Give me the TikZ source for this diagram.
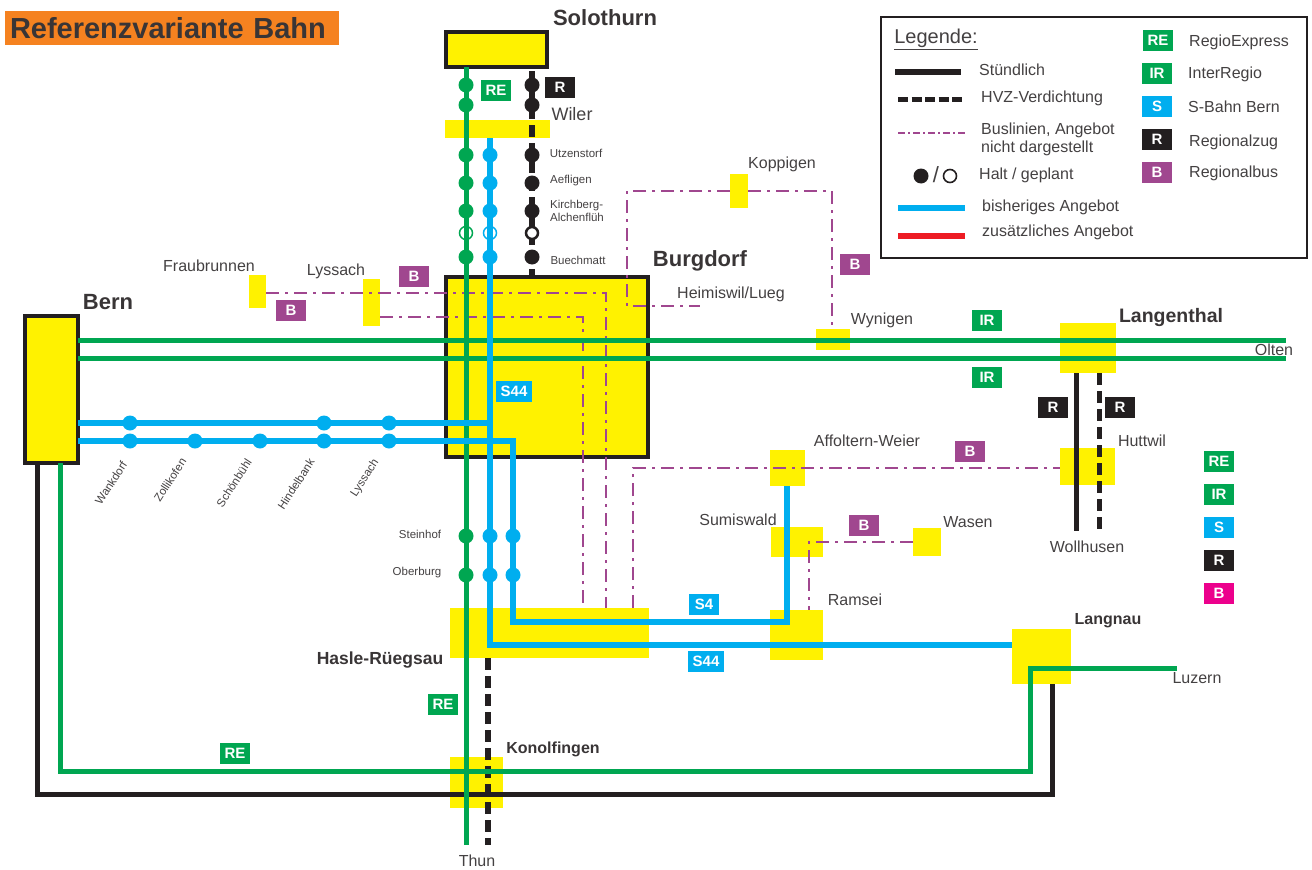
\documentclass[tikz,border=0pt]{standalone}
\usepackage{fontspec}
\setmainfont{Liberation Sans}
\usepackage{xcolor}
\usepackage{tikz}
\usetikzlibrary{positioning, arrows.meta}

\definecolor{reGreen}{HTML}{00A651}
\definecolor{sBlue}{HTML}{00AEEF}
\definecolor{stopYellow}{HTML}{FFF200}
\definecolor{busPurple}{HTML}{A0478F}
\definecolor{railBlack}{HTML}{231F20}
\definecolor{titleOrange}{HTML}{F58220}
\definecolor{addRed}{HTML}{ED1C24}
\definecolor{tagPink}{HTML}{EC008C}

\begin{document}
\begin{tikzpicture}[
    x=1pt, y=-1pt,
    % Define styles for the nodes and paths
        station/.style={fill=stopYellow, draw=none, inner sep=0pt, outer sep=0pt},
        hub/.style={fill=stopYellow, draw=railBlack, line width=4pt, inner sep=0pt, outer sep=0pt},
        tag/.style={inner sep=0pt, minimum height=21pt, minimum width=30pt, text=white, font=\fontsize{15}{15}\selectfont\bfseries},
        place/.style={inner sep=0pt, text=railBlack!85!white, font=\fontsize{16}{18}\selectfont, align=left},
        bigplace/.style={inner sep=0pt, text=railBlack!90!white, font=\fontsize{22}{24}\selectfont\bfseries},
        midplace/.style={inner sep=0pt, text=railBlack!90!white, font=\fontsize{16}{18}\selectfont\bfseries},
        tiny/.style={inner sep=0pt, text=railBlack!85!white, font=\fontsize{11.5}{13}\selectfont, align=left},
        slanted/.style={tiny, rotate=57},
        greenline/.style={draw=reGreen, line width=5pt},
        blueline/.style={draw=sBlue, line width=6pt},
        blackline/.style={draw=railBlack, line width=6pt},
        hvzline/.style={draw=railBlack, line width=6pt, dash pattern=on 12pt off 6pt},
        busline/.style={draw=busPurple, line width=2.8pt, dash pattern=on 13pt off 6pt on 3pt off 6pt},
        stopdot/.style={circle, inner sep=0pt, minimum size=15pt}
    ]
    \useasboundingbox (0,0) rectangle (1312,870);

        % Define the stations
        \node[station, minimum width=105pt, minimum height=18pt] (wiler) at (497.5,129) {};
        \node[station, minimum width=56pt, minimum height=50pt] (langenthal) at (1088,348) {};
        \node[station, minimum width=55pt, minimum height=37pt] (huttwil) at (1087.5,466.5) {};
        \node[station, minimum width=34pt, minimum height=21pt] (wynigen) at (833,339.5) {};
        \node[station, minimum width=18pt, minimum height=34pt] (koppigen) at (739,191) {};
        \node[station, minimum width=17pt, minimum height=33pt] (fraubrunnen) at (257.5,291.5) {};
        \node[station, minimum width=17pt, minimum height=47pt] (lyssachbus) at (371.5,302.5) {};
        \node[station, minimum width=35pt, minimum height=36pt] (affoltern) at (787.5,468) {};
        \node[station, minimum width=52pt, minimum height=30pt] (sumiswald) at (797,542) {};
        \node[station, minimum width=28pt, minimum height=28pt] (wasen) at (927,542) {};
        \node[station, minimum width=53pt, minimum height=50pt] (ramsei) at (796.5,635) {};
        \node[station, minimum width=199pt, minimum height=50pt] (hasle) at (549.5,633) {};
        \node[station, minimum width=59pt, minimum height=55pt] (langnau) at (1041.5,656.5) {};
        \node[station, minimum width=53pt, minimum height=51pt] (konolfingen) at (476.5,782.5) {};
        \node[hub, minimum width=101pt, minimum height=35pt] (solothurn) at (496.5,49.5) {};
        \node[hub, minimum width=202pt, minimum height=180pt] (burgdorf) at (547,367) {};
        \node[hub, minimum width=53pt, minimum height=147pt] (bern) at (51.5,389.5) {};

        % Define the free line ends
        \coordinate (thunG) at (466,845);
        \coordinate (thunK) at (488,845);
        \coordinate (oltenA) at (1286,340);
        \coordinate (oltenB) at (1286,358);
        \coordinate (wollA) at (1076,531);
        \coordinate (wollB) at (1099,531);
        \coordinate (luzern) at (1177,668);
        \coordinate (heimiswil) at (700,306);

        % Draw the bus lines
        \draw[busline] (koppigen.east |- 0,191) -- (832,191) -- (wynigen.north -| 832,0);
        \draw[busline] (koppigen.west |- 0,191) -- (627,191) -- (627,306) -- (heimiswil);
        \draw[busline] (fraubrunnen.east |- 0,293) -- (606,293) -- (606,608);
        \draw[busline] (lyssachbus.east |- 0,317) -- (583,317) -- (583,608);
        \draw[busline] (633,608) -- (633,468) -- (huttwil.west |- 0,468);
        \draw[busline] (wasen.west) -- (809,542) -- (809,610);

        % Draw the rail lines
        \draw[greenline] (bern.east |- 0,340) -- (oltenA);
        \draw[greenline] (bern.east |- 0,358) -- (oltenB);
        \draw[blackline, line width=5pt] (langenthal.south -| 1076,0) -- (wollA);
        \draw[hvzline, line width=5pt] (langenthal.south -| 1099,0) -- (wollB);
        \draw[hvzline] (532,71) -- (532,275);
        \draw[hvzline] (488,658) -- (thunK);
        \draw[blackline, line width=5pt] (langnau.south -| 1052,0) -- (1052,794) -- (37,794) -- (bern.south -| 37,0);
        \draw[greenline] (luzern) -- (1030,668) -- (1030,771) -- (60,771) -- (bern.south -| 60,0);
        \draw[greenline] (solothurn.south -| 466,0) -- (thunG);
        \draw[blueline] (bern.east |- 0,423) -- (490,423);
        \draw[blueline] (490,138) -- (490,645) -- (langnau.west |- 0,645);
        \draw[blueline] (bern.east |- 0,441) -- (513,441) -- (513,622) -- (787,622) -- (affoltern.south -| 787,0);

        % Draw the stops
        \foreach \py in {85,105,155,183,211,257,536,575}
            \node[stopdot, fill=reGreen] (g\py) at (466,\py) {};
        \foreach \py in {155,183,211,257,536,575}
            \node[stopdot, fill=sBlue] (s\py) at (490,\py) {};
        \foreach \py in {536,575}
            \node[stopdot, fill=sBlue] (t\py) at (513,\py) {};
        \foreach \py in {85,105,155,183,211,257}
            \node[stopdot, fill=railBlack] (k\py) at (532,\py) {};
        \foreach \px in {130,324,389}
            \node[stopdot, fill=sBlue] (u\px) at (\px,423) {};
        \foreach \px in {130,195,260,324,389}
            \node[stopdot, fill=sBlue] (v\px) at (\px,441) {};
        \node[stopdot, draw=reGreen, line width=1.5pt, minimum size=13pt] (gplan) at (466,233) {};
        \node[stopdot, draw=sBlue, line width=1.5pt, minimum size=13pt] (splan) at (490,233) {};
        \node[stopdot, fill=white, draw=railBlack, line width=2.5pt, minimum size=12pt] (kplan) at (532,233) {};

        % Place the labels
        \node[bigplace] (lblSolothurn) at (605,18) {Solothurn};
        \node[bigplace] (lblBurgdorf) at (700,261) {Burgdorf};
        \node[bigplace] (lblBern) at (108,302) {Bern};
        \node[midplace, font=\fontsize{19.5}{22}\selectfont\bfseries] (lblLangenthal) at (1171,317) {Langenthal};
        \node[midplace, font=\fontsize{17.5}{20}\selectfont\bfseries] (lblHasle) at (380,660) {Hasle-Rüegsau};
        \node[midplace] (lblLangnau) at (1108,621) {Langnau};
        \node[midplace] (lblKonolfingen) at (553,749) {Konolfingen};
        \node[place, font=\fontsize{18}{20}\selectfont] (lblWiler) at (572,114) {Wiler};
        \node[place] (lblKoppigen) at (782,164) {Koppigen};
        \node[place] (lblFraubrunnen) at (209,266) {Fraubrunnen};
        \node[place] (lblLyssach) at (336,271) {Lyssach};
        \node[place] (lblHeimiswil) at (731,294) {Heimiswil/Lueg};
        \node[place] (lblWynigen) at (882,320) {Wynigen};
        \node[place] (lblOlten) at (1274,350) {Olten};
        \node[place] (lblAffoltern) at (867,441) {Affoltern-Weier};
        \node[place] (lblHuttwil) at (1142,441) {Huttwil};
        \node[place] (lblSumiswald) at (738,520) {Sumiswald};
        \node[place] (lblWasen) at (968,522) {Wasen};
        \node[place] (lblRamsei) at (855,600) {Ramsei};
        \node[place] (lblWollhusen) at (1087,547) {Wollhusen};
        \node[place] (lblLuzern) at (1197,678) {Luzern};
        \node[place] (lblThun) at (477,861) {Thun};
        \node[tiny] (lblUtzenstorf) at (576,153) {Utzenstorf};
        \node[tiny] (lblAefligen) at (571,181) {Aefligen};
        \node[tiny] (lblKirchberg) at (577,211) {Kirchberg-\\Alchenflüh};
        \node[tiny] (lblBuechmatt) at (578,260) {Buechmatt};
        \node[tiny] (lblSteinhof) at (420,534) {Steinhof};
        \node[tiny] (lblOberburg) at (417,573) {Oberburg};
        \node[slanted] (lblWankdorf) at (111,483) {Wankdorf};
        \node[slanted] (lblZollikofen) at (170,480) {Zollikofen};
        \node[slanted] (lblSchoenbuehl) at (234,483) {Schönbühl};
        \node[slanted] (lblHindelbank) at (296,484) {Hindelbank};
        \node[slanted] (lblLyssachS) at (365,478) {Lyssach};

        % Place the line tags
        \node[tag, fill=reGreen] (tagReA) at (496,90) {RE};
        \node[tag, fill=railBlack] (tagRa) at (560,87) {R};
        \node[tag, fill=busPurple] (tagBa) at (855,264) {B};
        \node[tag, fill=busPurple] (tagBb) at (414,276) {B};
        \node[tag, fill=busPurple] (tagBc) at (291,310) {B};
        \node[tag, fill=reGreen] (tagIrA) at (987,320) {IR};
        \node[tag, fill=reGreen] (tagIrB) at (987,377) {IR};
        \node[tag, fill=sBlue, minimum width=36pt] (tagSa) at (514,391) {S44};
        \node[tag, fill=railBlack] (tagRb) at (1053,407) {R};
        \node[tag, fill=railBlack] (tagRc) at (1120,407) {R};
        \node[tag, fill=busPurple] (tagBd) at (970,451) {B};
        \node[tag, fill=busPurple] (tagBe) at (864,525) {B};
        \node[tag, fill=sBlue] (tagSb) at (704,604) {S4};
        \node[tag, fill=sBlue, minimum width=36pt] (tagSc) at (706,661) {S44};
        \node[tag, fill=reGreen] (tagReB) at (443,704) {RE};
        \node[tag, fill=reGreen] (tagReC) at (235,753) {RE};
        \node[tag, fill=reGreen] (sideRe) at (1219,461) {RE};
        \node[tag, fill=reGreen] (sideIr) at (1219,494) {IR};
        \node[tag, fill=sBlue] (sideS) at (1219,527) {S};
        \node[tag, fill=railBlack] (sideR) at (1219,560) {R};
        \node[tag, fill=tagPink] (sideB) at (1219,593) {B};

        % Draw the title
        \node[fill=titleOrange, text width=324pt, inner xsep=5pt, inner ysep=0pt, minimum height=34pt, align=left, text=railBlack!90!white, font=\fontsize{29}{31}\selectfont\bfseries] (title) at (172,28) {Referenzvariante Bahn};

        % Draw the legend
        \node[draw=railBlack, line width=1.2pt, fill=white, minimum width=426pt, minimum height=241pt, inner sep=0pt] (legend) at (1094,137.5) {};
        \node[place, font=\fontsize{20}{22}\selectfont] (legTitle) at (936,39) {\underline{Legende:}};
        \coordinate (lA1) at (895,72);
        \coordinate (lA2) at (961,72);
        \coordinate (lB1) at (898,99);
        \coordinate (lB2) at (963,99);
        \coordinate (lC1) at (898,133);
        \coordinate (lC2) at (965,133);
        \coordinate (lE1) at (898,208);
        \coordinate (lE2) at (965,208);
        \coordinate (lF1) at (898,236);
        \coordinate (lF2) at (965,236);
        \draw[blackline] (lA1) -- (lA2);
        \draw[hvzline, line width=5pt, dash pattern=on 10pt off 3.5pt] (lB1) -- (lB2);
        \draw[busline, line width=1.8pt, dash pattern=on 7pt off 3pt on 2pt off 3pt] (lC1) -- (lC2);
        \draw[blueline] (lE1) -- (lE2);
        \draw[blueline, draw=addRed] (lF1) -- (lF2);
        \node[stopdot, fill=railBlack] (legFull) at (921,176) {};
        \node[place, font=\fontsize{22}{24}\selectfont] (legSlash) at (936,175) {/};
        \node[stopdot, draw=railBlack, line width=1.6pt, minimum size=13pt] (legOpen) at (950,176) {};
        \node[place, anchor=west] (legA) at (979,70) {Stündlich};
        \node[place, anchor=west] (legB) at (981,98) {HVZ-Verdichtung};
        \node[place, anchor=west] (legC) at (981,139) {Buslinien, Angebot\\nicht dargestellt};
        \node[place, anchor=west] (legD) at (979,175) {Halt / geplant};
        \node[place, anchor=west] (legE) at (982,207) {bisheriges Angebot};
        \node[place, anchor=west] (legF) at (982,232) {zusätzliches Angebot};
        \node[tag, fill=reGreen] (legRe) at (1158,40) {RE};
        \node[tag, fill=reGreen] (legIr) at (1157,73) {IR};
        \node[tag, fill=sBlue] (legS) at (1157,106) {S};
        \node[tag, fill=railBlack] (legR) at (1157,139) {R};
        \node[tag, fill=busPurple] (legBus) at (1157,172) {B};
        \node[place, anchor=west] (legReT) at (1189,42) {RegioExpress};
        \node[place, anchor=west] (legIrT) at (1188,74) {InterRegio};
        \node[place, anchor=west] (legST) at (1188,107) {S-Bahn Bern};
        \node[place, anchor=west] (legRT) at (1189,142) {Regionalzug};
        \node[place, anchor=west] (legBT) at (1189,173) {Regionalbus};
    \end{tikzpicture}
\end{document}
